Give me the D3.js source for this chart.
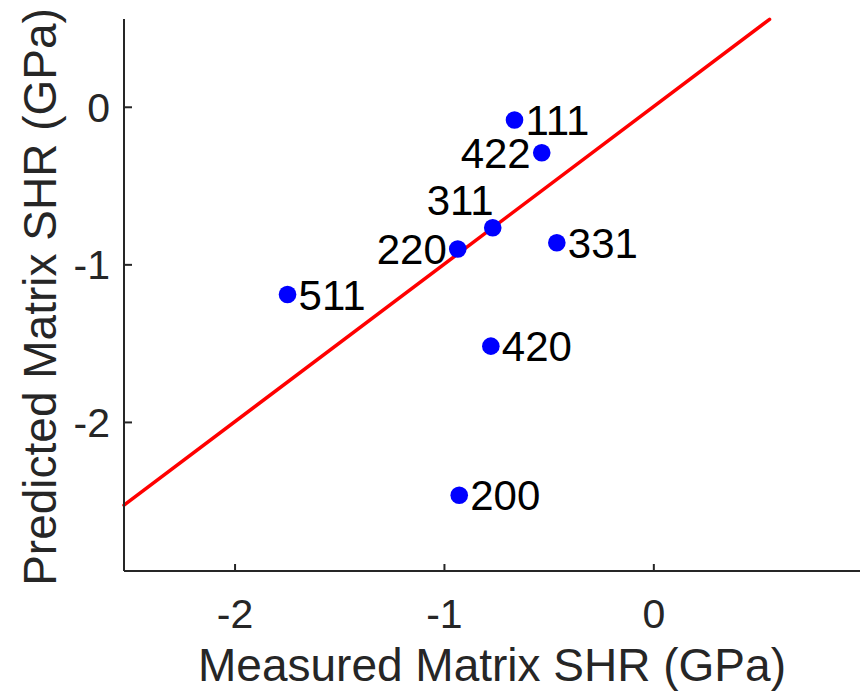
<!DOCTYPE html>
<html>
<head>
<meta charset="utf-8">
<script src="https://cdn.jsdelivr.net/npm/d3@7"></script>
<style>
  html, body { margin: 0; padding: 0; background: #fff; }
  svg { display: block; font-family: "Liberation Sans", Arial, Helvetica, sans-serif; }
</style>
</head>
<body>
<svg id="chart" width="864" height="698"></svg>
<script>
// Reflection labels (hkl) with measured vs predicted matrix SHR, in GPa
const planes    = ["111", "422", "311", "220", "331", "511", "420", "200"];
const measured  = [-0.663, -0.533, -0.767, -0.934, -0.461, -1.747, -0.776, -0.927];
const predicted = [-0.084, -0.292, -0.768, -0.903, -0.863, -1.191, -1.519, -2.465];
// Which side of the marker each label sits on
const labelSide = ["right", "left", "above", "left", "right", "right", "right", "right"];

// 1:1 reference line end points
const refLine = [-2.528, 0.555];

const xTicks = [-2, -1, 0];
const yTicks = [-2, -1, 0];

const xDomain = [-2.528, 0.987];
const yDomain = [-2.946, 0.557];

const svg = d3.select("#chart");
const plot = { left: 124, right: 860, top: 19, bottom: 571 };

const x = d3.scaleLinear().domain(xDomain).range([plot.left, plot.right]);
const y = d3.scaleLinear().domain(yDomain).range([plot.bottom, plot.top]);

const axisColor = "#262626";

// 1:1 line
svg.append("line")
  .attr("x1", x(refLine[0])).attr("y1", y(refLine[0]))
  .attr("x2", x(refLine[1])).attr("y2", y(refLine[1]))
  .attr("stroke", "#ff0000")
  .attr("stroke-width", 3.5)
  .attr("stroke-linecap", "round");

// Axes
const xAxis = d3.axisBottom(x).tickValues(xTicks).tickSize(-7).tickPadding(0)
  .tickFormat(d3.format("d"));
const yAxis = d3.axisLeft(y).tickValues(yTicks).tickSize(-8).tickPadding(0)
  .tickFormat(d3.format("d"));

const gx = svg.append("g").attr("transform", `translate(0,${plot.bottom})`).call(xAxis);
const gy = svg.append("g").attr("transform", `translate(${plot.left},0)`).call(yAxis);

[gx, gy].forEach(g => {
  g.select(".domain").attr("stroke", axisColor).attr("stroke-width", 2);
  g.selectAll(".tick line").attr("stroke", axisColor).attr("stroke-width", 2);
  g.selectAll(".tick text")
    .attr("fill", axisColor)
    .style("font-size", "41px")
    .style("font-family", "'Liberation Sans', Arial, sans-serif");
});
// straight domain lines without outer ticks
gx.select(".domain").attr("d", `M${plot.left},0H${plot.right}`);
gy.select(".domain").attr("d", `M0,${plot.bottom}V${plot.top}`);

gx.selectAll(".tick text").text(d => d < 0 ? "-" + Math.abs(d) : d)
  .attr("y", 57).attr("dy", null);
gy.selectAll(".tick text").text(d => d < 0 ? "-" + Math.abs(d) : d)
  .attr("x", -14).attr("dy", "0.35em");

// Axis titles
svg.append("text")
  .attr("x", (plot.left + plot.right) / 2)
  .attr("y", 681)
  .attr("text-anchor", "middle")
  .attr("fill", axisColor)
  .style("font-size", "46px")
  .text("Measured Matrix SHR (GPa)");

svg.append("text")
  .attr("transform", `translate(56,${(plot.top + plot.bottom) / 2 + 2}) rotate(-90)`)
  .attr("text-anchor", "middle")
  .attr("fill", axisColor)
  .style("font-size", "46px")
  .text("Predicted Matrix SHR (GPa)");

// Points
const pts = planes.map((p, i) => ({ label: p, mx: measured[i], py: predicted[i], side: labelSide[i] }));

svg.append("g").selectAll("circle").data(pts).join("circle")
  .attr("cx", d => x(d.mx))
  .attr("cy", d => y(d.py))
  .attr("r", 8.8)
  .attr("fill", "#0000ff");

// Labels
svg.append("g").selectAll("text").data(pts).join("text")
  .attr("x", d => x(d.mx) + (d.side === "right" ? 11 : d.side === "left" ? -11 : 1))
  .attr("y", d => y(d.py) + (d.side === "above" ? -28 : 0))
  .attr("dy", "0.36em")
  .attr("text-anchor", d => d.side === "right" ? "start" : "end")
  .attr("fill", "#000")
  .style("font-size", "42px")
  .text(d => d.label);
</script>
</body>
</html>
